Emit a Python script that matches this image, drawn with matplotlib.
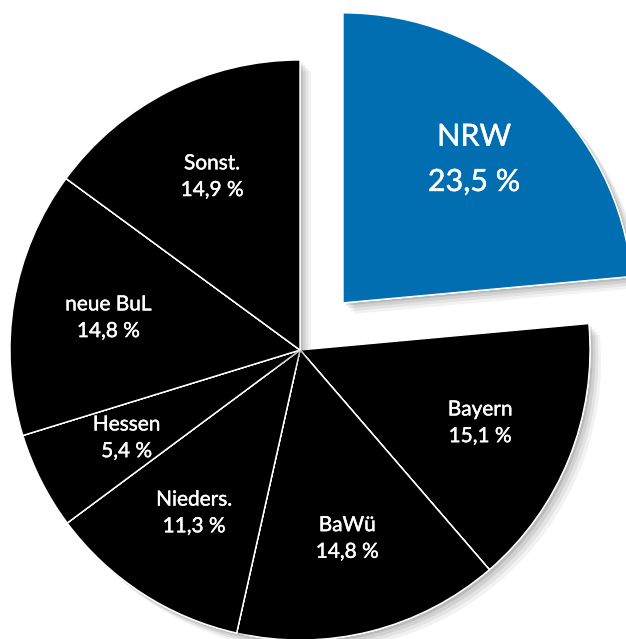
import numpy as np
import matplotlib.pyplot as plt
import matplotlib.patheffects as pe

# Anteile nach Region
regionen = ['NRW', 'Bayern', 'BaWü', 'Nieders.', 'Hessen', 'neue BuL', 'Sonst.']
anteile = [23.5, 15.1, 14.8, 11.3, 5.4, 14.8, 14.9]
farben = ['#006eb0', 'black', 'black', 'black', 'black', 'black', 'black']
explode = [0.22, 0, 0, 0, 0, 0, 0]

plt.rcParams['font.family'] = ['Lato', 'DejaVu Sans']

fig = plt.figure(figsize=(6.26, 6.39), dpi=100)
ax = fig.add_axes([0, 0, 1, 1])

schatten = [pe.withSimplePatchShadow(offset=(o, -o), shadow_rgbFace='black', alpha=a)
            for o, a in [(8, 0.05), (6, 0.06), (4, 0.08), (2, 0.1)]] + [pe.Normal()]

wedges, _ = ax.pie(anteile, explode=explode, colors=farben, startangle=90,
                   counterclock=False, radius=1,
                   wedgeprops=dict(edgecolor='white', linewidth=1))
for w in wedges:
    w.set_path_effects(schatten)

# etwas kräftigere Schrift
fett = [pe.withStroke(linewidth=0.3, foreground='white')]

# Beschriftungen in den Segmenten
for w, name, wert in zip(wedges, regionen, anteile):
    ang = np.deg2rad((w.theta1 + w.theta2) / 2)
    cx, cy = w.center
    x = cx + 0.67 * np.cos(ang)
    y = cy + 0.67 * np.sin(ang)
    gross = name == 'NRW'
    fs = 22 if gross else 15
    abstand = 0.078 if gross else 0.046
    ax.text(x, y + abstand, name, color='white', fontsize=fs,
            ha='center', va='center', path_effects=fett)
    ax.text(x, y - abstand, f'{wert:.1f} %'.replace('.', ','), color='white',
            fontsize=fs, ha='center', va='center', path_effects=fett)

ax.set_xlim(-300 / 290, 326 / 290)
ax.set_ylim(-289 / 290, 350 / 290)
ax.axis('off')

plt.savefig('out.png', dpi=100)
